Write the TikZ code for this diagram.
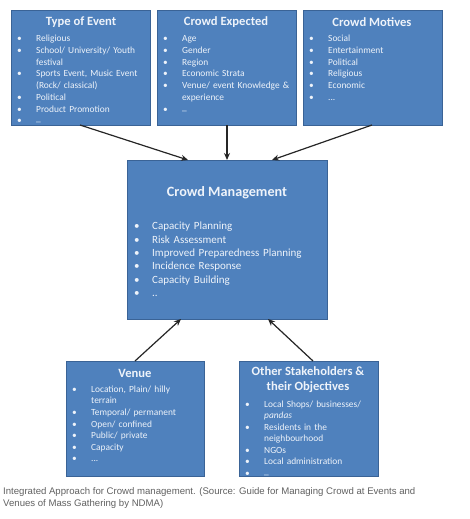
\documentclass[tikz,border=0pt]{standalone}
\usepackage{fontspec}
\setmainfont{Carlito}
\newfontfamily\capfont{Liberation Sans}
\usetikzlibrary{arrows.meta}
\definecolor{boxblue}{HTML}{4F81BD}
\definecolor{boxedge}{HTML}{3A6396}
\definecolor{txt}{HTML}{EEF3FA}
\definecolor{capgray}{HTML}{606060}
\hyphenpenalty=10000
\exhyphenpenalty=10000
\newcommand{\bl}[1]{\par\hangindent=#1\hangafter=1\noindent\makebox[#1][l]{\textbullet}\ignorespaces}
\tikzset{
  box/.style={draw=boxedge, line width=0.8pt, fill=boxblue, anchor=north west, inner sep=0pt},
  ttl/.style={text=txt, font=\bfseries\fontsize{12.6}{15}\selectfont, align=center, inner sep=0pt},
  body/.style={text=txt, anchor=north west, inner sep=0pt, align=left},
  conn/.style={line width=1.2pt, draw=black!85, -{Stealth[length=7pt,width=6pt]}},
}
\begin{document}
\begin{tikzpicture}[x=1pt,y=-1pt]
\useasboundingbox (0,0) rectangle (469,519);
% boxes
\node[box, minimum width=139pt, minimum height=115pt] (tev) at (11,10) {};
\node[box, minimum width=139pt, minimum height=115pt] (cex) at (157,10) {};
\node[box, minimum width=139pt, minimum height=115pt] (cmo) at (303,10) {};
\node[box, minimum width=200pt, minimum height=159pt] (cm) at (127,160) {};
\node[box, minimum width=138pt, minimum height=115pt] (ven) at (66,361) {};
\node[box, minimum width=139pt, minimum height=115pt] (osh) at (239,361) {};
% titles
\node[ttl] (tevt) at (81,22) {Type of Event};
\node[ttl] (cext) at (226,22) {Crowd Expected};
\node[ttl] (cmot) at (372,22) {Crowd Motives};
\node[ttl, font=\bfseries\fontsize{14.2}{16}\selectfont] (cmt) at (227,193) {Crowd Management};
\node[ttl] (vent) at (135,373) {Venue};
\node[ttl] (osht) at (308,379.5) {Other Stakeholders \&\\their Objectives};
% bodies
\node[body, text width=128pt, font=\fontsize{9.4}{11.7}\selectfont] (tevb) at (17,30) {%
\bl{19pt}Religious
\bl{19pt}School/ University/ Youth festival
\bl{19pt}Sports Event, Music Event (Rock/ classical)
\bl{19pt}Political
\bl{19pt}Product Promotion
\bl{19pt}\raisebox{2pt}{\_}};
\node[body, text width=130pt, font=\fontsize{9.4}{11.7}\selectfont] (cexb) at (163,30) {%
\bl{19pt}Age
\bl{19pt}Gender
\bl{19pt}Region
\bl{19pt}Economic Strata
\bl{19pt}Venue/ event Knowledge \& experience
\bl{19pt}\raisebox{2pt}{\_}};
\node[body, text width=130pt, font=\fontsize{9.4}{11.7}\selectfont] (cmob) at (309,30) {%
\bl{19pt}Social
\bl{19pt}Entertainment
\bl{19pt}Political
\bl{19pt}Religious
\bl{19pt}Economic
\bl{19pt}...};
\node[body, text width=190pt, font=\fontsize{11}{13.4}\selectfont] (cmb) at (134,216) {%
\bl{18pt}Capacity Planning
\bl{18pt}Risk Assessment
\bl{18pt}Improved Preparedness Planning
\bl{18pt}Incidence Response
\bl{18pt}Capacity Building
\bl{18pt}..};
\node[body, text width=118pt, font=\fontsize{9.4}{11.6}\selectfont] (venb) at (72,380.5) {%
\bl{19pt}Location, Plain/ hilly terrain
\bl{19pt}Temporal/ permanent
\bl{19pt}Open/ confined
\bl{19pt}Public/ private
\bl{19pt}Capacity
\bl{19pt}...};
\node[body, text width=128pt, font=\fontsize{9.4}{11.5}\selectfont] (oshb) at (245,395.5) {%
\bl{19pt}Local Shops/ businesses/ \textit{pandas}
\bl{19pt}Residents in the neighbourhood
\bl{19pt}NGOs
\bl{19pt}Local administration
\bl{19pt}\raisebox{2pt}{\_}};
% connector anchors
\coordinate (a1) at (80,125);
\coordinate (a2) at (188,160);
\coordinate (b1) at (227,125);
\coordinate (b2) at (227,160);
\coordinate (c1) at (372,125);
\coordinate (c2) at (272,160);
\coordinate (d1) at (135,361);
\coordinate (d2) at (181,319);
\coordinate (e1) at (313,361);
\coordinate (e2) at (268,319);
\draw[conn] (a1) -- (a2);
\draw[conn] (b1) -- (b2);
\draw[conn] (c1) -- (c2);
\draw[conn] (d1) -- (d2);
\draw[conn] (e1) -- (e2);
% caption
\node[anchor=north west, inner sep=0pt, align=left, text=capgray,
  font=\capfont\fontsize{9.6}{11.5}\selectfont] (cap) at (3,487.5) {Integrated Approach for Crowd management. (Source: Guide for Managing Crowd at Events and\\Venues of Mass Gathering by NDMA)};
\end{tikzpicture}
\end{document}
